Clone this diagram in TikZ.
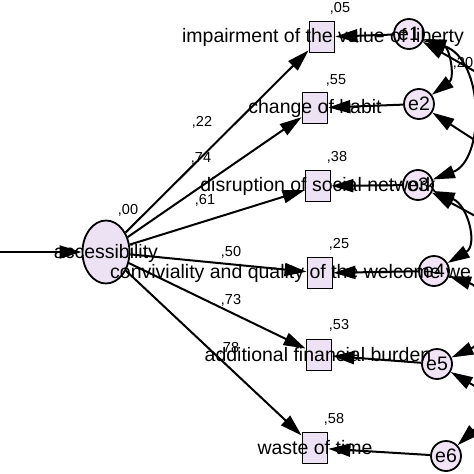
\documentclass[tikz,border=0pt]{standalone}
\usepackage{fontspec}
\setmainfont{Liberation Sans}
\usetikzlibrary{arrows.meta,shapes.geometric}
\definecolor{boxfill}{RGB}{236,226,243}
\definecolor{circfill}{RGB}{241,229,245}
\definecolor{latfill}{RGB}{236,226,244}
\begin{document}
\begin{tikzpicture}[x=1pt,y=-1pt,
  obs/.style={draw, line width=1.8pt, fill=boxfill, minimum width=25pt, minimum height=31pt, inner sep=0pt},
  err/.style={draw, circle, line width=1.8pt, fill=circfill, minimum size=30pt, inner sep=0pt, font=\fontsize{19.5}{22}\selectfont},
  lat/.style={draw, ellipse, line width=1.8pt, fill=latfill, minimum width=47pt, minimum height=63pt, inner sep=0pt},
  lbl/.style={font=\fontsize{19.5}{22}\selectfont, inner sep=0pt},
  num/.style={font=\fontsize{14.5}{16}\selectfont, inner sep=0pt},
  pth/.style={line width=2pt, arrows={-Triangle[length=22pt,width=13pt]}},
  cov/.style={line width=2pt, arrows={Triangle[length=22pt,width=13pt]-Triangle[length=22pt,width=13pt]}}]
\useasboundingbox (0,0) rectangle (474,474);
\clip (0,0) rectangle (474,474);
\fill[white] (0,0) rectangle (474,474);
% shapes
\node[lat] (acc) at (106,252) {};
\node[obs] (b1) at (322,37) {};
\node[obs] (b2) at (315,108) {};
\node[obs] (b3) at (318,186) {};
\node[obs] (b4) at (320,273) {};
\node[obs] (b5) at (319,355) {};
\node[obs] (b6) at (315,448) {};
\node[err] (e1) at (409,34) {e1};
\node[err] (e2) at (419,104) {e2};
\node[err] (e3) at (418,185) {e3};
\node[err] (e4) at (434,271) {e4};
\node[err] (e5) at (437,364) {e5};
\node[err] (e6) at (446,456) {e6};
% off-picture ends
\coordinate (src) at (-10,252);
\coordinate (o1) at (490,80);
\coordinate (o2) at (490,150);
\coordinate (o3) at (490,224);
\coordinate (o5) at (490,395);
\coordinate (o6) at (490,415);
% paths
\draw[pth] (src) -- (acc);
\draw[pth] (acc) -- (b1);
\draw[pth] (acc) -- (b2);
\draw[pth] (acc) -- (b3);
\draw[pth] (acc) -- (b4);
\draw[pth] (acc) -- (b5);
\draw[pth] (acc) -- (b6);
\draw[pth] (e1) -- (b1);
\draw[pth] (e2) -- (b2);
\draw[pth] (e3) -- (b3);
\draw[pth] (e4) -- (b4);
\draw[pth] (e5) -- (b5);
\draw[pth] (e6) -- (b6);
% covariances
\draw[cov] (e1) .. controls (450,48) and (455,78) .. (e2);
\draw[cov] (e1) .. controls (485,60) and (485,160) .. (e3);
\draw[cov] (e3) .. controls (468,205) and (478,245) .. (e4);
\draw[cov] (e4) .. controls (490,290) and (490,340) .. (e5);
\draw[pth] (o1) -- (e1);
\draw[pth] (o2) -- (e2);
\draw[pth] (o3) -- (e3);
\draw[pth] (o5) -- (e5);
\draw[pth] (o6) -- (e6);
% labels
\node[lbl] (t1) at (323,37) {impairment of the value of liberty};
\node[lbl] (t2) at (315,108) {change of habit};
\node[lbl] (t3) at (318,186) {disruption of social network};
\node[lbl,anchor=west] (t4) at (110,273) {conviviality and quality of the welcome we};
\node[lbl] (t5) at (318,355) {additional financial burden};
\node[lbl] (t6) at (315,448) {waste of time};
\node[lbl] (ta) at (106,253) {accessibility};
% numbers
\node[num] (n1) at (340,8) {,05};
\node[num] (n2) at (336,80) {,55};
\node[num] (n3) at (337,157) {,38};
\node[num] (n4) at (339,244) {,25};
\node[num] (n5) at (339,325) {,53};
\node[num] (n6) at (334,419) {,58};
\node[num] (n0) at (128,210) {,00};
\node[num] (p1) at (202,122) {,22};
\node[num] (p2) at (201,158) {,74};
\node[num] (p3) at (205,200) {,61};
\node[num] (p4) at (231,252) {,50};
\node[num] (p5) at (231,300) {,73};
\node[num] (p6) at (229,348) {,78};
\node[num] (c12) at (463,63) {,20};
\end{tikzpicture}
\end{document}
